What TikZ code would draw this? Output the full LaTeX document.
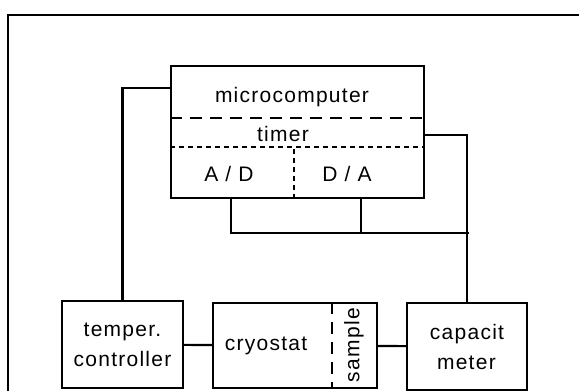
\documentclass[tikz,border=0pt]{standalone}
\usepackage{fontspec}
\setmainfont{Liberation Sans}[LetterSpace=6]
\usetikzlibrary{positioning}

\begin{document}
\begin{tikzpicture}[
    x=1pt, y=-1pt,
    unit/.style={rectangle, draw=black, line width=2.2pt, inner sep=0pt, align=center, font=\fontsize{21}{30}\selectfont},
    lbl/.style={inner sep=0pt, font=\fontsize{21}{30}\selectfont},
    conn/.style={line width=2.2pt, draw=black},
    sep/.style={line width=2pt, dash pattern=on 12pt off 8pt},
    fine/.style={line width=2pt, dash pattern=on 5pt off 4pt}
]
    \useasboundingbox (0,0) rectangle (579,391);
    % frame, cut by the page
    \draw[conn] (8,391) -- (8,15) -- (579,15);

    % microcomputer with its parts
    \node[unit, minimum width=253pt, minimum height=132pt] (mc) at (297.5,132) {};
    \node[lbl] (mctxt) at (292,97) {microcomputer};
    \node[lbl] (timer) at (283,134) {timer};
    \node[lbl] (ad) at (229,174) {A / D};
    \node[lbl] (da) at (347,174) {D / A};
    \draw[sep] (mc.north west) ++(0,53) -- ++(253,0);
    \draw[fine] (mc.north west) ++(0,82) -- ++(253,0);
    \draw[fine] (mc.south west) ++(124,0) -- ++(0,-50);

    % lower row
    \node[unit, minimum width=121pt, minimum height=87pt] (tc) at (122.5,344.5) {temper.\\controller};
    \node[unit, minimum width=164pt, minimum height=85pt] (cryo) at (295,345.5) {};
    \node[lbl] (cryotxt) at (266,346) {cryostat};
    \node[lbl, rotate=90] (sample) at (354,345) {sample};
    \draw[sep] (cryo.north west) ++(120,0) -- ++(0,85);
    \node[unit, minimum width=120pt, minimum height=87pt, align=left] (cap) at (467,346.5) {capacit\\\ meter};

    % connections
    \coordinate (bus) at (469,233);
    \draw[conn] (mc.north west) ++(0,23) -| (tc.north);
    \draw[conn] (mc.north east) ++(0,70) -| (cap.north);
    \draw[conn] (mc.south west) ++(61,0) |- (bus);
    \draw[conn] (mc.south east) ++(-64,0) -- ++(0,35);
    \draw[conn] (tc) -- (cryo);
    \draw[conn] (cryo) -- (cap);
\end{tikzpicture}
\end{document}
